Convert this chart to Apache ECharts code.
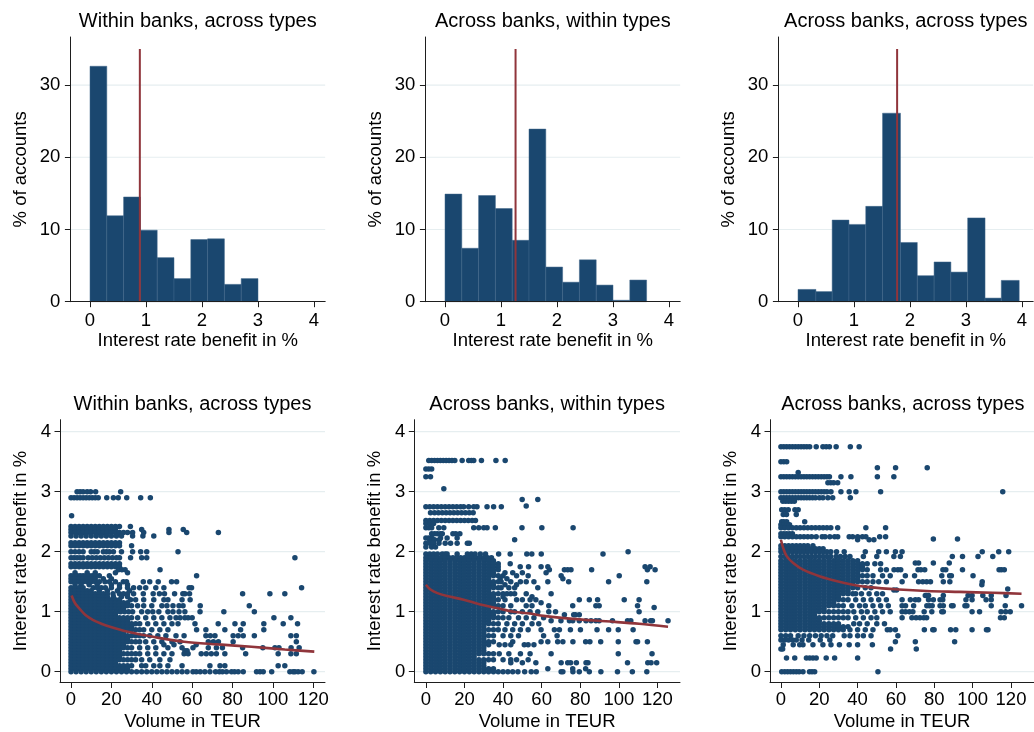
<!DOCTYPE html>
<html><head><meta charset="utf-8">
<script src="https://cdn.jsdelivr.net/npm/echarts@6/dist/echarts.min.js"></script>
<style>html,body{margin:0;padding:0;background:#fff}#c{width:1034px;height:732px}</style>
</head><body><div id="c"></div>
<script>
// ---------------- DATA ----------------
const panelTitles = ['Within banks, across types', 'Across banks, within types', 'Across banks, across types'];
const histXName = 'Interest rate benefit in %';
const histYName = '% of accounts';
const scatXName = 'Volume in TEUR';
const scatYName = 'Interest rate benefit in %';

const topXTicks = [0, 1, 2, 3, 4];
const topYTicks = [0, 10, 20, 30];
const botXTicks = [0, 20, 40, 60, 80, 100, 120];
const botYTicks = [0, 1, 2, 3, 4];

// histogram bin edges and heights (% of accounts)
const histEdges1 = [0, 0.3, 0.6, 0.9, 1.2, 1.5, 1.8, 2.1, 2.4, 2.7, 3.0];
const histPct1 = [32.6, 11.9, 14.5, 9.9, 6.1, 3.2, 8.6, 8.7, 2.4, 3.2];
const histEdges2 = [0, 0.3, 0.6, 0.9, 1.2, 1.5, 1.8, 2.1, 2.4, 2.7, 3.0, 3.3, 3.6];
const histPct2 = [14.9, 7.4, 14.7, 12.9, 8.5, 23.9, 4.8, 2.7, 5.8, 2.3, 0.2, 3.0];
const histEdges3 = [0, 0.32, 0.61, 0.91, 1.21, 1.51, 1.83, 2.13, 2.43, 2.73, 3.03, 3.34, 3.63, 3.95];
const histPct3 = [1.7, 1.4, 11.3, 10.7, 13.2, 26.1, 8.2, 3.6, 5.5, 4.1, 11.6, 0.5, 2.95];

// mean benefit (red vertical lines) and their top value
const meanBenefit = [0.89, 1.26, 1.77];
const meanLineTop = 35;

// fitted curves: [volume, benefit]
const fit1 = [[0.3,1.27],[2,1.14],[4.5,1.04],[7,0.95],[11,0.86],[15,0.8],[19.3,0.75],[27.6,0.67],[35.8,0.61],[44,0.56],[56,0.5],[72.9,0.455],[89.4,0.415],[105.9,0.37],[120.5,0.335]];
const fit2 = [[0,1.45],[2.4,1.37],[6,1.31],[11,1.26],[19.6,1.2],[28.2,1.12],[36.8,1.06],[45.5,1.0],[54.1,0.97],[61,0.93],[76.1,0.88],[93.3,0.84],[110.5,0.8],[125.5,0.75]];
const fit3 = [[0,2.2],[1.2,2.06],[2.9,1.93],[6.4,1.81],[11.5,1.7],[20.1,1.59],[28.8,1.51],[37.4,1.45],[46,1.41],[61.5,1.37],[76.1,1.345],[93.3,1.33],[110.5,1.315],[125.5,1.3]];

// scatter rows: [benefit, volume, volume, ...]
const scatterRows1 = [
 [3.0, 3,4.5,6,8,9.7,12.2,24.6],
 [2.9, 0,1.5,3,4.5,6,7.5,9,10.5,12,13.5,17.7,21,23.4,27.6,34.5,39.3],
 [2.6, 0.3],
 [2.42, 0,2,4,6,8,10,12,14,16,18,20,22,24,29.4],
 [2.37, 0,2,4,6,8,10,12,14,16,18,20,22,35,48.5,55.6],
 [2.32, 0,2,4,6,8,10,12,14,16,18,20,22,24,26,28,30.5,36,48.5,57.3,73],
 [2.26, 0,2.5,5,7.5,10,12.5,15,17.5,20,22.5,25,30.5,35.6,41],
 [2.15, 0,2,4,6,8,10,12,14,16,18,20,22,24],
 [2.1, 0,2,4,6,8,10,12,14,16,18,20,22,24,30],
 [2.0, 0,2,4,6,10,11.5,13,16,17.5,19,21,25,30.5,34.5,37.5,53],
 [1.9, 0,1.5,3,4.5,6,8.5,10.5,12.5,14.5,16.5,18.5,20.5,22.5,24,29.5,35,37.5,110.9],
 [1.8, 0,2,4,6,8,10,12,14,16,18,20,22,24],
 [1.75, 0,2,4,6,8,10,12,14,16,18,20,22,24],
 [1.7, 23.5,25.2,26.8,44.1],
 [1.65, 2,8,12,22,28],
 [1.6, 0,1.5,3,4.5,6,7.5,9,10.5,12,14,19,62.2],
 [1.55, 0,2,4,6,8,10,12,16,20],
 [1.5, 0,2,4,6,8,10,12,14,16.8,19,22,25.9,27.5,35.8,39,43.2,49.8,52.3],
 [1.45, 2,5,9,13,20,24,28],
 [1.4, 0,2,4,6,11,13,15,17,20,24,28,31,34,37,42,46,58.5,59.7,114.2],
 [1.35, 0,2,4,6,8,10,14,18,23,29],
 [1.3, 0,2,4,6,8,10,12,14,16,18,20.8,24,26,28,31,35.8,40.7,43.8,46.3,51.3,55.4,56.4,58.7,85,98.5,105.9],
 [1.25, 0,2,4,6,8,10,12,14,16,18,21,25,28],
 [1.2, 0,2,4,6,8,10,12,14,16,18,20,22,24,29.5,32,36,41,46,48,55,59],
 [1.15, 0,2,4,6,8,10,12,14,16,18,20,22,24,26,28],
 [1.1, 0,2,4,6,8,10,12,14,16,18,20,22,24,26,28,30,33,36,40,45,47.5,50.5,53.5,55.5,64,88.3],
 [1.05, 0,2,4,6,8,10,12,14,16,18,20,22,24,26],
 [1.0, 0,2,4,6,8,10,12,14,16,18,20,22.6,24.5,26.5,28.5,30.5,35,38,40.5,43.5,48,50.5,53.5,56.4,63.9,75.7,90.8],
 [0.95, 0,2,4,6,8,10,12,14,16,18,20,22],
 [0.9, 0,2,4,6,8,10,12,14,16,18,20,22,24,26,28,30,33,37,41,45,49,52,54,56.4,58,60,100.5,108.9],
 [0.85, 0,2,4,6,8,10,12,14,16,18,20,22,24,26,28],
 [0.8, 0,2,4,6,8,10,12,14,16,18,20,22,24,26,28,30,32,34,38,42,46,50,53,61.4,72.9,81.2,85.3,95.5,105.1,112.2],
 [0.75, 0,2,4,6,8,10,12,14,16,18,20,22,24,26,28,30],
 [0.7, 0,2,4,6,8,10,12,14,16,18,20,22,24,26,28,30,32,34,36,40,44,48,62.2,66.8,76.2,84,95.5],
 [0.65, 0,2,4,6,8,10,12,14,16,18,20,22,24,26],
 [0.6, 0,2,4,6,8,10,12,14,16,18,20,22,24,26,28,30,32,34,36,39,43,47,52,56,66.8,69,71.3,80.3,82.8,85.3,90.8,108.9,111.6],
 [0.55, 0,2,4,6,8,10,12,14,16,18,20,22,24,26,28],
 [0.5, 0,2,4,6,8,10,12,14,16,18,20,22,24,26,28,30,32,34,37,41,45,50,54,68,70.5,73,80.3,111.6],
 [0.45, 0,2,4,6,8,10,12,14,16,18,20,22,24,26,46,51,62],
 [0.4, 0,2,4,6,8,10,12,14,16,18,20,22,24,26,28,30,34,38,42,48,55,60.4,68,72,75,85,95,101,103,109,113],
 [0.35, 0,2,4,6,8,10,12,14,16,18,20,22,24,56.4,57.5],
 [0.3, 0,2,4,6,8,10,12,14,16,18,20,22,24,26,28,30,32,34,38,42,46,50,56,58,64.5,67,69.5,72,76.2,86.5,102.6,108.9,111.6],
 [0.25, 0,2,4,6,8,10,12,14,16,18,20,22,24],
 [0.2, 0,2,4,6,8,10,12,14,16,18,20,22,24,26,28,30,32,35,39,44,49],
 [0.15, 0,2,4,6,8,10,12,14,16,18,20,22],
 [0.1, 0,2,4,6,8,10,12,14,16,18,20,22,24,26,28,30,35,37,41,44,48,55,68.8,73.8,76.2,102.6,105.9],
 [0.05, 0,2,4,6,8,10,12,14,16,18,20,22,24,26,28],
 [0.0, 0,2.5,5,7.5,10,12.5,15,17.5,20,22.5,25,27.5,30,32.5,35,37.5,40,42.5,45,47.5,50,52.5,55,57.5,60.4,62,64,66.3,68.8,71.6,73.5,75,77,79.5,81,82.8,85.3,91.9,93.6,95.2,99.4,108.4,110,110.9,112.5,114.5,120.3]
];

const scatterRows2 = [
 [3.52, 1.5,3,4.5,6,7.5,9,10.5,12,13.5,15,18.8,22.2,23.6,24.8,28.8,36.3,41.1],
 [3.38, 0,1.5,3],
 [3.25, 0,2.4],
 [3.05, 9.3],
 [2.87, 49.9,58],
 [2.76, 52],
 [2.75, 0,2,4,6,8,10,12,14,16,18,19.6,22.2,24.8,26.5,31.7,35.1,39.1],
 [2.65, 2.4,4.5,6.5,8.5,10.5,12.5,14.5,16.5,18.5,20.5,22.5,24.5],
 [2.52, 0,2,4,6,8,10,12,14,16,18,20,22,24,25.7],
 [2.47, 0,2,4],
 [2.4, 0,1.5,3,6.7,9.3,24.8,27.4,30,31.7,36,49.8,60.1,76.3],
 [2.3, 3,4.5,5.9,7.5,8.5,14,15.5,17.6],
 [2.23, 0,1.5,3,7.6,11,16.2],
 [2.2, 2,4.5,7,46],
 [2.14, 0,2,4,6.8,10,12.8,16.2,21.5,22.5],
 [2.08, 0,3,5],
 [2.0, 104.8],
 [1.96, 0,2,4,6,8.5,10,11,16.2,21.5,23.5,25.5,28.2,30.9,37.7,43.7,52.3,54.9,59.8,91.8],
 [1.9, 0,2,4,6,8,10,12,14,16,18,20,22,24,26,28,30,32,34],
 [1.85, 0,2.5,5,7.5,10,12.5,15,17.5,20,22.5,25,27.5,30,32.5,35],
 [1.8, 0,2.5,5,7.5,10,12.5,15,17.5,20,22.5,25,27.5,30,32.5,35,37.5,43.7],
 [1.75, 0,2.5,5,7.5,10,12.5,15,17.5,20,22.5,25,27.5,30,32.5,35,37.5,48.9,53.2,59.7,63.2,113.6,116.2],
 [1.7, 0,2.5,5,7.5,10,12.5,15,17.5,20,22.5,25,27.5,30,32.5,35,37.5,64,71.8,73.5,75.2,85.9,114.8,118.8],
 [1.65, 0,2.5,5,7.5,10,12.5,15,17.5,20,22.5,25,27.5,30,32.5,35,41,45,50,62.3],
 [1.6, 0,2.5,5,7.5,10,12.5,15,17.5,20,22.5,25,27.5,30,32.5,35,37.5,40,47,53,70.1,100.2],
 [1.55, 0,2.5,5,7.5,10,12.5,15,17.5,20,22.5,25,27.5,30,32.5,38.5,42,71],
 [1.5, 0,2.5,5,7.5,10,12.5,15,17.5,20,22.5,25,27.5,30,32.5,35,37.5,39,44,49,52,56,63.2,74,94.7,114.5],
 [1.45, 0,2.5,5,7.5,10,12.5,15,17.5,20,22.5,25,27.5,30,32.5,35,41,47],
 [1.4, 0,2.5,5,7.5,10,12.5,15,17.5,20,22.5,25,27.5,30,32.5,35,37.5,39,43,46,58],
 [1.35, 0,2.5,5,7.5,10,12.5,15,17.5,20,22.5,25,27.5,30,32.5],
 [1.3, 0,2.5,5,7.5,10,12.5,15,17.5,20,22.5,25,27.5,30,32.5,35,37.5,40,42,44,46,52,64.9],
 [1.25, 0,2.5,5,7.5,10,12.5,15,17.5,20,22.5,25,27.5,30,32.5,35,40,55],
 [1.2, 0,2.5,5,7.5,10,12.5,15,17.5,20,22.5,25,27.5,30,32.5,35,37.5,41,47,50,54,57,79.5,84.7,89,102.8,110.5],
 [1.15, 0,2.5,5,7.5,10,12.5,15,17.5,20,22.5,25,27.5,30,32.5,35,59.7],
 [1.1, 0,2.5,5,7.5,10,12.5,15,17.5,20,22.5,25,27.5,30,32.5,35,37.5,40,44,52,55,63.7,76.1,88.1,89.8,109.7],
 [1.07, 118.3],
 [1.05, 0,2.5,5,7.5,10,12.5,15,17.5,20,22.5,25,27.5,30,32.5],
 [1.0, 0,2.5,5,7.5,10,12.5,15,17.5,20,22.5,25,27.5,30,32.5,35,37.5,40,44,46,50,54,58,63.7,67.2,110.5],
 [0.95, 0,2.5,5,7.5,10,12.5,15,17.5,20,22.5,25,27.5,30,32.5,35,71.8,76.6,77.5,79.5],
 [0.9, 0,2.5,5,7.5,10,12.5,15,17.5,20,22.5,25,27.5,30,32.5,35,37.5,40,43,48,52,56,61],
 [0.85, 0,2.5,5,7.5,10,12.5,15,17.5,20,22.5,25,27.5,30,32.5,64.9,70,74.4,76.1,79.5,83,85.6,88.1,89.8,96.7,104.5,106.2,113.6,116.5,117.4,125.5],
 [0.8, 0,2.5,5,7.5,10,12.5,15,17.5,20,22.5,25,27.5,30,32.5,35,37.5,42,46,50,55,58.5],
 [0.75, 0,2.5,5,7.5,10,12.5,15,17.5,20,22.5,25,27.5,30],
 [0.7, 0,2.5,5,7.5,10,12.5,15,17.5,20,22.5,25,27.5,30,32.5,35,37.5,41,45,49,53,59.7,66.6,69.2,74.9,80.1,88.7,94.7,99.7,107.4],
 [0.65, 0,2.5,5,7.5,10,12.5,15,17.5,20,22.5,25,27.5,30],
 [0.6, 0,2.5,5,7.5,10,12.5,15,17.5,20,22.5,25,27.5,30,32.5,35,40,44,48,61,68],
 [0.55, 0,2.5,5,7.5,10,12.5,15,17.5,20,22.5,25,27.5,30],
 [0.5, 0,2.5,5,7.5,10,12.5,15,17.5,20,22.5,25,27.5,30,32.5,35,45,59.7,63.2,68.3,71,76.2,82.8,85,90.6,99.7,108.9,109.7,114.8],
 [0.45, 0,2.5,5,7.5,10,12.5,15,17.5,20,22.5,25,27.5,30,32.5,38,41,44,51,53,56],
 [0.4, 0,2.5,5,7.5,10,12.5,15,17.5,20,22.5,25,27.5,30],
 [0.35, 0,2.5,5,7.5,10,12.5,15,17.5,20,22.5,25,27.5,30],
 [0.3, 0,2.5,5,7.5,10,12.5,15,17.5,20,22.5,25,27.5,30,32.5,35,38,43,49,54,64.9,99.7,117.2],
 [0.25, 0,2.5,5,7.5,10,12.5,15,17.5,20,22.5,25],
 [0.2, 0,2.5,5,7.5,10,12.5,15,17.5,20,22.5,25,27.5,30,32.5,35,40,44,47,53],
 [0.15, 0,2.5,5,7.5,10,12.5,15,17.5,20,22.5,25,27.5,30,44,50,57,70.1,73.5,75,78,83,84,104.5,115,116.7,119.6],
 [0.1, 0,2.5,5,7.5,10,12.5,15,17.5,20,22.5,25,27.5,30],
 [0.05, 0,2.5,5,7.5,10,12.5,15,17.5,20,22.5,25,27.5,30,32.5,35,63.2,76.1,82.8],
 [0.0, 0,2.5,5,7.5,10,12.5,15,17.5,20,22.5,25,27.5,30,32.5,35,37.5,40,42.5,45,47.7,51.2,54.6,57.2,70.1,71,76.2,79.5,84.7,90.7,99.3,107,114.5]
];

const scatterRows3 = [
 [3.75, 0,1.5,3,4.5,6,7.5,9,10.5,12,13.5,15,18.4,21.9,23.6,25.3,28.8,36.2,40.8],
 [3.5, 0,1.5,3],
 [3.4, 50.3,59.8,76.3],
 [3.32, 9],
 [3.25, 0,1.5,3,4.5,6,7.5,9,10.5,12,13.5,15,16.5,18,19.5,21,22.5,24,25.3,31.3,36.5,50.3,58.9],
 [3.15, 24.5,26,27.5,29.6],
 [3.0, 0,1.5,3,4.5,6,7.5,9,10.5,12,13.5,15,16.5,18,19.5,21,22.5,24,26.1,31.3,35.6,39.1,52,115.7],
 [2.9, 0,1.5,3,4.5,6,7.5,9,10.5,12,13.5,15,16.5,18,20.1,21.9,24.5,27,36.2],
 [2.84, 1,2.5,4,5.5,7],
 [2.7, 0.4,2,3.8,7.3,9],
 [2.62, 1.2,2.9,8],
 [2.5, 0.4,1.5,3,12.4],
 [2.45, 0,1.5,3,4.5],
 [2.4, 0,2,4,6,8,10,12,14,16,18,20,22,24,26,29.6,44.3,54.6],
 [2.3, 0,1.5,3,4.5,6],
 [2.25, 0,2,4,6,8,10,12,14,16,18.4,21.5,23,25.5,28,29.6,35.6,37.4,40,42.5,44.3,51.5,54.6],
 [2.21, 79.5,92.1],
 [2.2, 40,46,48.5],
 [2.1, 0,2,4,6,8,10,12,14,16.7],
 [2.05, 0,2,4,6,8,10,12,14,16,18,20,22],
 [2.0, 0,2,4,6,8,10,12,14,16,18,20,22,24,26,29,33,44,51,55,59.7,63.2,105,113.6,118.8],
 [1.92, 0,2,4,6,8,10,12,14,16,18,20,22,24,26,28.8,31,33.5,36,43,50,58.9,62.3,89.4,94.7,102.8,110.5],
 [1.85, 0,2.5,5,7.5,10,12.5,15,17.5,20,22.5,25,27.5,30,32.5,35,37.5,40],
 [1.81, 70.1,71.8,79.5,87.8],
 [1.8, 0,2.5,5,7.5,10,12.5,15,17.5,20,22.5,25,27.5,30,32.5,35,37.5,40,42.5,45,49,52],
 [1.75, 0,2.5,5,7.5,10,12.5,15,17.5,20,22.5,25,27.5,30,32.5,35,37.5,40,42.5],
 [1.7, 0,2.5,5,7.5,10,12.5,15,17.5,20,22.5,25,27.5,30,32.5,35,37.5,40,42.5,45,52,55,59,61,62.5,71.5,73,75,84.5,86,94.7,113.8,115,116.5],
 [1.65, 0,2.5,5,7.5,10,12.5,15,17.5,20,22.5,25,27.5,30,32.5,35,37.5,40],
 [1.6, 0,2.5,5,7.5,10,12.5,15,17.5,20,22.5,25,27.5,30,32.5,35,37.5,40,42.5,45,48,53,57,64.9,69.7,83.9,88,88.9,100.2],
 [1.55, 0,2.5,5,7.5,10,12.5,15,17.5,20,22.5,25,27.5,30,32.5,35,37.5,40],
 [1.5, 0,2.5,5,7.5,10,12.5,15,17.5,20,22.5,25,27.5,30,32.5,35,37.5,40,42.5,45,48,51,55,63.2,71.8,74,76,78,84.7,88.1,105],
 [1.45, 0,2.5,5,7.5,10,12.5,15,17.5,20,22.5,25,27.5,30,32.5,35,37.5,104.8],
 [1.4, 0,2.5,5,7.5,10,12.5,15,17.5,20,22.5,25,27.5,30,32.5,35,37.5,40,44,47],
 [1.38, 118.3],
 [1.36, 58.9,60.3],
 [1.35, 0,2.5,5,7.5,10,12.5,15,17.5,20,22.5,25,27.5,30,32.5,35],
 [1.3, 0,2.5,5,7.5,10,12.5,15,17.5,20,22.5,25,27.5,30,32.5,35,37.5,39,42,46,50,53],
 [1.27, 75.3,76.1,77,84.7,97.6,99.7,105.3,109.7,117.4],
 [1.25, 0,2.5,5,7.5,10,12.5,15,17.5,20,22.5,25,27.5,30],
 [1.2, 0,2.5,5,7.5,10,12.5,15,17.5,20,22.5,25,27.5,30,32.5,35,39,43,47,51,55,63.2,67.5,70.1,71.8,77,79.5,83,84.4,96.5,99.7,107,109.7],
 [1.15, 0,2.5,5,7.5,10,12.5,15,17.5,20,22.5,25,27.5],
 [1.1, 0,2.5,5,7.5,10,12.5,15,17.5,20,22.5,25,27.5,30,32.5,37,41,44,48,52,56,63.2,65,69.2,76.1,77.5,78.9,83,84.7,89,89.8,96,97,109.7,117,125.5],
 [1.05, 0,2.5,5,7.5,10,12.5,15,17.5,20,22.5],
 [1.0, 0,2.5,5,7.5,10,12.5,15,17.5,20,22.5,25,27.5,30,32.5,35,38,42,45,49,53,57,63.2,65,67,68.8,74.7,78.7,83.9,84.7,99.7,103.6,114.8,117.2,119.6],
 [0.95, 0,2.5,5,7.5,10,12.5,15,17.5],
 [0.9, 0,2.5,5,7.5,10,12.5,15,17.5,20,22.5,25,27.5,30,32.5,35,39,43,47,50,63.2,68.3,70.5,72.5,74.5,76,114.5,116.5],
 [0.85, 0,2.5,5,7.5,10,12.5,15,17.5,20],
 [0.8, 0,2.5,5,7.5,10,12.5,15,17.5,20,22.5,25,27.5,30,38,41,45,50,54],
 [0.75, 0,2.5,5,7.5,10,12.5,15,17.5,20,22.5,25,27.5,30,32.5,35],
 [0.7, 0,2.5,5,7.5,10,12.5,15,17.5,20,22.5,25,27.5,30,32.5,36,40,44,48,55.5,57,59.7,74.8,79.2,79.9,88.5,91.2,99.7,107.2,108],
 [0.6, 0,2.5,5,9,12,15,18,21,24,27,33,36,40,43,47,61],
 [0.53, 0,2,4,6,8,11,14.5,20.5,25.5],
 [0.5, 59.7,70.1,90.6],
 [0.45, 1.2,6.4,9.8,11.5,16.7,21.9,26.1,30.5,35.6,40,47.7],
 [0.38, 0,0.9,57.2,70.6],
 [0.23, 2.9,7.2,13.3,15,16.7,18.4,23.6,28,40],
 [0.0, 0.4,2,3.5,5,6.5,8,9.5,11.5,14.9,16.2,17.6,50.6]
];

// ---------------- CHART ----------------
const FONT = '"Liberation Sans", Arial, Helvetica, sans-serif';
const NAVY = '#1a476f';
const MAROON = '#90353b';
const GRIDC = '#e6eef0';
const AXC = '#1e1e1e';

const topGrids = [
  {left: 70.4, top: 37, width: 254.8, height: 264.7},
  {left: 425.4, top: 37, width: 254.8, height: 264.7},
  {left: 778.4, top: 37, width: 254.8, height: 264.7}
];
const botGrids = [
  {left: 60, top: 419.7, width: 265, height: 263.4},
  {left: 414.3, top: 419.7, width: 265.7, height: 263.4},
  {left: 770, top: 419.7, width: 265.7, height: 263.4}
];
const topXRange = [-0.35, 4.2];
const topYRange = [0, 36.65];
const botXRanges = [[-5.45, 125.8], [-6, 131.7], [-5.7, 132]];
const botYRange = [-0.18, 4.2];

const hists = [[histEdges1, histPct1], [histEdges2, histPct2], [histEdges3, histPct3]];
const rowsAll = [scatterRows1, scatterRows2, scatterRows3];
const fits = [fit1, fit2, fit3];

function axisCfg(gi, range, ticks, name, nameGap, margin) {
  return {
    type: 'value', gridIndex: gi, min: range[0], max: range[1], z: 5,
    name: name, nameLocation: 'middle', nameGap: nameGap,
    nameTextStyle: {fontSize: 18.5, color: '#000', fontFamily: FONT},
    axisLine: {show: true, onZero: false, lineStyle: {color: AXC, width: 1}},
    axisTick: {show: true, length: 5.5, lineStyle: {color: AXC, width: 1}, customValues: ticks},
    axisLabel: {show: true, fontSize: 18.5, color: '#000', fontFamily: FONT, margin: margin, customValues: ticks},
    splitLine: {show: false}
  };
}

const grids = [];
const xAxes = [];
const yAxes = [];
const titles = [];
const series = [];

function gridLineSeries(idx, xr, vals) {
  return {
    type: 'custom', xAxisIndex: idx, yAxisIndex: idx, z: 1, silent: true,
    data: vals.map(v => [xr[0], v]),
    encode: {x: 0, y: 1},
    renderItem: function (params, api) {
      const v = api.value(1);
      const a = api.coord([xr[0], v]);
      const b = api.coord([xr[1], v]);
      return {type: 'line', shape: {x1: a[0], y1: a[1], x2: b[0], y2: b[1]},
              style: {stroke: GRIDC, lineWidth: 1.2}};
    }
  };
}

for (let i = 0; i < 3; i++) {
  const g = topGrids[i];
  grids.push(g);
  xAxes.push(axisCfg(i, topXRange, topXTicks, histXName, 29, 9.5));
  yAxes.push(axisCfg(i, topYRange, topYTicks, histYName, 40, 10));
  titles.push({text: panelTitles[i], left: g.left + g.width / 2, top: 11, textAlign: 'center', padding: 0,
               textStyle: {fontSize: 20, fontWeight: 'normal', color: '#000', fontFamily: FONT}});
}
for (let i = 0; i < 3; i++) {
  const g = botGrids[i];
  grids.push(g);
  xAxes.push(axisCfg(3 + i, botXRanges[i], botXTicks, scatXName, 29.5, 8));
  yAxes.push(axisCfg(3 + i, botYRange, botYTicks, scatYName, 30, 9));
  titles.push({text: panelTitles[i], left: g.left + g.width / 2, top: 394, textAlign: 'center', padding: 0,
               textStyle: {fontSize: 20, fontWeight: 'normal', color: '#000', fontFamily: FONT}});
}

// top row: histograms
for (let i = 0; i < 3; i++) {
  series.push(gridLineSeries(i, topXRange, topYTicks.filter(v => v > 0)));
  const edges = hists[i][0], pct = hists[i][1];
  series.push({
    type: 'custom', xAxisIndex: i, yAxisIndex: i, z: 2, silent: true,
    data: pct.map((p, k) => [edges[k], edges[k + 1], p]),
    encode: {x: [0, 1], y: 2},
    renderItem: function (params, api) {
      const a = api.coord([api.value(0), api.value(2)]);
      const b = api.coord([api.value(1), 0]);
      return {type: 'rect', shape: {x: a[0], y: a[1], width: b[0] - a[0], height: b[1] - a[1]},
              style: {fill: NAVY, stroke: '#3f6488', lineWidth: 0.5}};
    }
  });
  series.push({
    type: 'line', xAxisIndex: i, yAxisIndex: i, z: 3, silent: true, symbol: 'none',
    data: [[meanBenefit[i], 0], [meanBenefit[i], meanLineTop]],
    lineStyle: {color: MAROON, width: 2}
  });
}

// bottom row: scatters
for (let i = 0; i < 3; i++) {
  const idx = 3 + i;
  series.push(gridLineSeries(idx, botXRanges[i], botYTicks));
  const pts = [];
  rowsAll[i].forEach(r => { for (let k = 1; k < r.length; k++) pts.push([r[k], r[0]]); });
  series.push({
    type: 'scatter', xAxisIndex: idx, yAxisIndex: idx, z: 2, silent: true,
    symbol: 'circle', symbolSize: 5.5, data: pts,
    itemStyle: {color: NAVY, opacity: 1}
  });
  series.push({
    type: 'line', xAxisIndex: idx, yAxisIndex: idx, z: 3, silent: true, symbol: 'none',
    smooth: 0.35, data: fits[i],
    lineStyle: {color: MAROON, width: 2.6}
  });
}

const chart = echarts.init(document.getElementById('c'), null, {renderer: 'canvas'});
chart.setOption({
  animation: false,
  backgroundColor: '#ffffff',
  title: titles,
  grid: grids,
  xAxis: xAxes,
  yAxis: yAxes,
  series: series
});
</script>
</body></html>
